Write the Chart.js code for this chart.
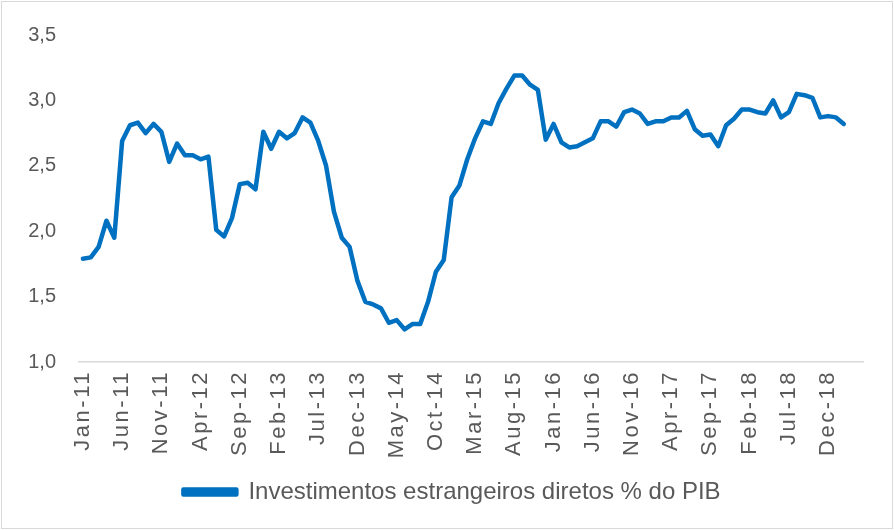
<!DOCTYPE html>
<html>
<head>
<meta charset="utf-8">
<script src="https://cdn.jsdelivr.net/npm/chart.js@4.4.1/dist/chart.umd.min.js"></script>
<style>
  body { margin: 0; background: #fff; }
  #wrap { width: 894px; height: 530px; }
</style>
</head>
<body>
<div id="wrap"><canvas id="chartContainer" width="894" height="530"></canvas></div>
<script>
// month categories Jan-11 .. Apr-19 (last two months have no value)
var monthNames = ['Jan', 'Feb', 'Mar', 'Apr', 'May', 'Jun', 'Jul', 'Aug', 'Sep', 'Oct', 'Nov', 'Dec'];
var firstYear = 2011;
var monthCount = 100;

// Investimentos estrangeiros diretos % do PIB
var ideValues = [
    1.79, 1.80, 1.88, 2.08, 1.95, 2.69, 2.81, 2.83, 2.75, 2.82, 2.76, 2.53,
    2.67, 2.58, 2.58, 2.55, 2.57, 2.01, 1.96, 2.10, 2.36, 2.37, 2.32, 2.76,
    2.63, 2.76, 2.71, 2.75, 2.87, 2.83, 2.69, 2.50, 2.15, 1.95, 1.88, 1.62,
    1.46, 1.44, 1.41, 1.30, 1.32, 1.25, 1.29, 1.29, 1.46, 1.69, 1.78, 2.26,
    2.35, 2.55, 2.71, 2.84, 2.82, 2.98, 3.09, 3.19, 3.19, 3.12, 3.08, 2.70,
    2.82, 2.68, 2.64, 2.65, 2.68, 2.71, 2.84, 2.84, 2.80, 2.91, 2.93, 2.90,
    2.82, 2.84, 2.84, 2.87, 2.87, 2.92, 2.78, 2.73, 2.74, 2.65, 2.81, 2.86,
    2.93, 2.93, 2.91, 2.90, 3.00, 2.87, 2.91, 3.05, 3.04, 3.02, 2.87, 2.88,
    2.87, 2.82
];

var yTicks = { min: 1.0, max: 3.5, step: 0.5 };
var labelEvery = 5;

function setupChart() {
    var labels = [];
    var data = [];
    for (var i = 0; i < monthCount; i++) {
        var yy = String((firstYear + Math.floor(i / 12)) % 100);
        labels.push(monthNames[i % 12] + '-' + yy);
        data.push(i < ideValues.length ? ideValues[i] : null);
    }

    var textColor = '#595959';
    var fontFamily = '"Liberation Sans", Arial, sans-serif';

    var borderPlugin = {
        id: 'outerBorder',
        afterDraw: function (chart) {
            var ctx = chart.ctx;
            ctx.save();
            ctx.strokeStyle = '#d9d9d9';
            ctx.lineWidth = 1;
            ctx.strokeRect(1.5, 1.5, chart.width - 3, chart.height - 3);
            ctx.restore();
        }
    };

    // the month labels are spaced out a little, like in the original
    var spacingPlugin = {
        id: 'xLabelSpacing',
        afterUpdate: function (chart) {
            var sc = chart.scales.x;
            if (sc._spaced) return;
            var orig = sc.drawLabels;
            sc.drawLabels = function (area) {
                var ctx = this.ctx;
                ctx.save();
                ctx.letterSpacing = '2.5px';
                orig.call(this, area);
                ctx.restore();
            };
            sc._spaced = true;
        }
    };

    // legend sits a bit right of the plot centre in the original
    var legendShift = {
        id: 'legendShift',
        afterLayout: function (chart) {
            chart.legend.left += 18;
            chart.legend.right += 18;
        }
    };

    var chart = new Chart(document.getElementById('chartContainer'), {
        type: 'line',
        data: {
            labels: labels,
            datasets: [{
                label: 'Investimentos estrangeiros diretos % do PIB',
                data: data,
                borderColor: '#0070C0',
                backgroundColor: '#0070C0',
                borderWidth: 4.5,
                borderJoinStyle: 'round',
                borderCapStyle: 'round',
                pointRadius: 0,
                tension: 0,
                spanGaps: false
            }]
        },
        options: {
            responsive: false,
            animation: false,
            layout: { padding: { top: 31, right: 26, bottom: 16, left: 0 } },
            plugins: {
                tooltip: { enabled: false },
                legend: {
                    position: 'bottom',
                    labels: {
                        boxWidth: 53,
                        boxHeight: 5,
                        padding: 10,
                        color: textColor,
                        font: { family: fontFamily, size: 24 }
                    }
                }
            },
            scales: {
                x: {
                    offset: true,
                    grid: { display: false, drawTicks: false },
                    border: { display: true, color: '#d9d9d9', width: 1.5 },
                    ticks: {
                        autoSkip: false,
                        minRotation: 90,
                        maxRotation: 90,
                        padding: 8,
                        color: textColor,
                        font: { family: fontFamily, size: 22 },
                        callback: function (val, idx) {
                            return idx % labelEvery === 0 ? labels[idx] : '';
                        }
                    },
                    afterFit: function (scale) { scale.height = 108; }
                },
                y: {
                    min: yTicks.min,
                    max: yTicks.max,
                    grid: { display: false, drawTicks: false },
                    border: { display: false },
                    ticks: {
                        stepSize: yTicks.step,
                        padding: 23,
                        color: textColor,
                        font: { family: fontFamily, size: 20 },
                        callback: function (v) { return v.toFixed(1).replace('.', ','); }
                    },
                    afterFit: function (scale) { scale.width = 79; }
                }
            }
        },
        plugins: [borderPlugin, spacingPlugin, legendShift]
    });
}

setupChart();
</script>
</body>
</html>
